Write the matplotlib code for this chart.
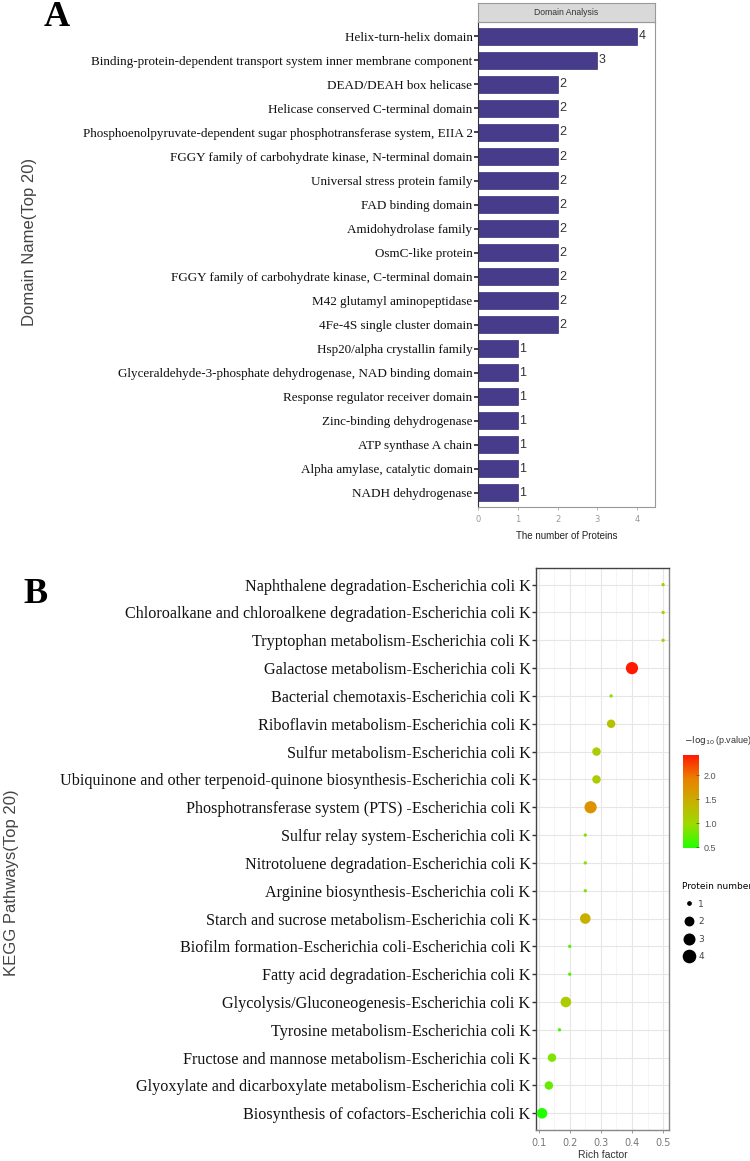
import matplotlib
matplotlib.use("Agg")
import matplotlib.pyplot as plt
from matplotlib.colors import LinearSegmentedColormap, Normalize
from matplotlib.lines import Line2D
import numpy as np

# ---- panel A data
domains = ["Helix-turn-helix domain",
           "Binding-protein-dependent transport system inner membrane component",
           "DEAD/DEAH box helicase",
           "Helicase conserved C-terminal domain",
           "Phosphoenolpyruvate-dependent sugar phosphotransferase system, EIIA 2",
           "FGGY family of carbohydrate kinase, N-terminal domain",
           "Universal stress protein family",
           "FAD binding domain",
           "Amidohydrolase family",
           "OsmC-like protein",
           "FGGY family of carbohydrate kinase, C-terminal domain",
           "M42 glutamyl aminopeptidase",
           "4Fe-4S single cluster domain",
           "Hsp20/alpha crystallin family",
           "Glyceraldehyde-3-phosphate dehydrogenase, NAD binding domain",
           "Response regulator receiver domain",
           "Zinc-binding dehydrogenase",
           "ATP synthase A chain",
           "Alpha amylase, catalytic domain",
           "NADH dehydrogenase"]
domain_counts = [4, 3, 2, 2, 2, 2, 2, 2, 2, 2, 2, 2, 2, 1, 1, 1, 1, 1, 1, 1]

# ---- panel B data
pathways = ["Naphthalene degradation-Escherichia coli K",
            "Chloroalkane and chloroalkene degradation-Escherichia coli K",
            "Tryptophan metabolism-Escherichia coli K",
            "Galactose metabolism-Escherichia coli K",
            "Bacterial chemotaxis-Escherichia coli K",
            "Riboflavin metabolism-Escherichia coli K",
            "Sulfur metabolism-Escherichia coli K",
            "Ubiquinone and other terpenoid-quinone biosynthesis-Escherichia coli K",
            "Phosphotransferase system (PTS) -Escherichia coli K",
            "Sulfur relay system-Escherichia coli K",
            "Nitrotoluene degradation-Escherichia coli K",
            "Arginine biosynthesis-Escherichia coli K",
            "Starch and sucrose metabolism-Escherichia coli K",
            "Biofilm formation-Escherichia coli-Escherichia coli K",
            "Fatty acid degradation-Escherichia coli K",
            "Glycolysis/Gluconeogenesis-Escherichia coli K",
            "Tyrosine metabolism-Escherichia coli K",
            "Fructose and mannose metabolism-Escherichia coli K",
            "Glyoxylate and dicarboxylate metabolism-Escherichia coli K",
            "Biosynthesis of cofactors-Escherichia coli K"]
rich_factor = [0.5, 0.5, 0.5, 0.4, 0.333, 0.333, 0.286, 0.286, 0.267, 0.25,
               0.25, 0.25, 0.25, 0.2, 0.2, 0.1875, 0.167, 0.143, 0.133, 0.111]
protein_number = [1, 1, 1, 4, 1, 2, 2, 2, 4, 1, 1, 1, 3, 1, 1, 3, 1, 2, 2, 3]
neg_log_p = [1.1, 1.1, 1.1, 2.42, 0.9, 1.25, 1.15, 1.15, 1.75, 0.85,
             0.85, 0.85, 1.45, 0.7, 0.7, 1.15, 0.6, 0.85, 0.75, 0.48]

serif = ["Liberation Serif", "DejaVu Serif"]
sans = ["Liberation Sans", "DejaVu Sans"]
narrow = ["Liberation Sans Narrow", "Liberation Sans", "DejaVu Sans"]

fig = plt.figure(figsize=(7.5, 11.61), dpi=100)

# ================= panel A
axA = fig.add_axes([0.6373, 0.5633, 0.236, 0.4177])
yA = np.arange(len(domains))
axA.barh(yA, domain_counts, height=0.72, color="#473C8C", edgecolor="#3a3170", linewidth=0.5)
for y, v in zip(yA, domain_counts):
    axA.text(v + 0.04, y, str(v), va="center", ha="left", fontsize=9, color="#333333", family=narrow)
axA.set_xlim(0, 4.45)
axA.set_ylim(len(domains) - 0.4, -0.6)
axA.set_yticks(yA)
axA.set_yticklabels(domains, family=serif, fontsize=9.45, color="#111111")
axA.set_xticks([0, 1, 2, 3, 4])
axA.tick_params(axis="x", labelsize=6, colors="#999999", length=2, width=0.5)
axA.tick_params(axis="y", length=3, width=1.2, color="#222222", pad=1)
for s in axA.spines.values():
    s.set_color("#999999")
    s.set_linewidth(0.8)
axA.spines["left"].set_color("#333333")
axA.set_xlabel("The number of Proteins", fontsize=7, family=narrow, color="#222222", labelpad=5)

strip = fig.add_axes([0.6373, 0.981, 0.236, 0.0164])
strip.set_facecolor("#D9D9D9")
strip.set_xticks([])
strip.set_yticks([])
for s in strip.spines.values():
    s.set_color("#999999")
    s.set_linewidth(0.8)
strip.text(0.5, 0.5, "Domain Analysis", ha="center", va="center", fontsize=6.2,
           family=narrow, color="#333333", transform=strip.transAxes)

fig.text(0.04, 0.792, "Domain Name(Top 20)", rotation=90, ha="center", va="center",
         fontsize=12, family=sans, color="#444444")
fig.text(0.075, 0.985, "A", fontsize=26, fontweight="bold", family=serif, ha="center", va="center")

# ================= panel B
cmap = LinearSegmentedColormap.from_list(
    "gr", [(0, "#22FF00"), (0.25, "#9CDB00"), (0.5, "#C8B000"), (0.75, "#EA8000"), (1, "#FF1A00")])
norm = Normalize(vmin=0.48, vmax=2.42)

axB = fig.add_axes([0.7147, 0.0267, 0.1773, 0.4841])
yB = np.arange(len(pathways))
sizes = [(2.4 + 6.4 * np.sqrt((n - 1) / 3)) ** 2 for n in protein_number]
axB.scatter(rich_factor, yB, s=sizes, c=neg_log_p, cmap=cmap, norm=norm, linewidths=0, zorder=3)
axB.set_xlim(0.0917, 0.519)
axB.set_ylim(len(pathways) - 0.4, -0.6)
axB.set_xticks([0.1, 0.2, 0.3, 0.4, 0.5])
axB.set_xticklabels(["0.1", "0.2", "0.3", "0.4", "0.5"])
axB.set_xticks([0.15, 0.25, 0.35, 0.45], minor=True)
axB.set_yticks(yB)
axB.set_yticklabels(pathways, family=serif, fontsize=11.6, color="#111111")
axB.grid(True, which="major", color="#E6E6E6", linewidth=0.8)
axB.grid(True, which="minor", axis="x", color="#F2F2F2", linewidth=0.5)
axB.set_axisbelow(True)
axB.tick_params(axis="x", which="major", labelsize=7, colors="#777777", length=2, width=0.5)
axB.tick_params(axis="x", which="minor", length=0)
axB.tick_params(axis="y", length=3, width=1, color="#333333", pad=1)
for s in axB.spines.values():
    s.set_color("#888888")
    s.set_linewidth(1)
axB.spines["left"].set_color("#444444")
axB.spines["top"].set_color("#444444")
axB.set_xlabel("Rich factor", fontsize=7.5, family=narrow, color="#333333", labelpad=2)

fig.text(0.016, 0.24, "KEGG Pathways(Top 20)", rotation=90, ha="center", va="center",
         fontsize=12, family=sans, color="#444444")
fig.text(0.048, 0.488, "B", fontsize=26, fontweight="bold", family=serif, ha="center", va="center")

# colour bar
cax = fig.add_axes([0.9107, 0.2696, 0.0213, 0.0801])
sm = plt.cm.ScalarMappable(norm=norm, cmap=cmap)
cb = fig.colorbar(sm, cax=cax, ticks=[0.5, 1.0, 1.5, 2.0])
cb.outline.set_visible(False)
cb.ax.tick_params(labelsize=6.5, colors="#555555", length=2, width=0.6, direction="in")
for t in cb.ax.get_yticklabels():
    t.set_family(narrow)
fig.text(0.912, 0.362, r"$-\log_{10}$(p.value)", fontsize=6.5, family=narrow, color="#333333",
         ha="left", va="center")

# size legend
handles = [Line2D([], [], marker="o", linestyle="", color="black",
                  markersize=2.4 + 6.4 * np.sqrt((n - 1) / 3)) for n in [1, 2, 3, 4]]
leg = fig.legend(handles, ["1", "2", "3", "4"], loc="upper left", bbox_to_anchor=(0.902, 0.245),
                 frameon=False, title="Protein number", fontsize=6.5, title_fontsize=6.5,
                 handletextpad=0.3, labelspacing=0.95, borderpad=0.1, handlelength=1.5)
leg._legend_box.align = "left"
for t in leg.get_texts():
    t.set_color("#444444")

fig.savefig("out.png", dpi=100)
plt.close(fig)
